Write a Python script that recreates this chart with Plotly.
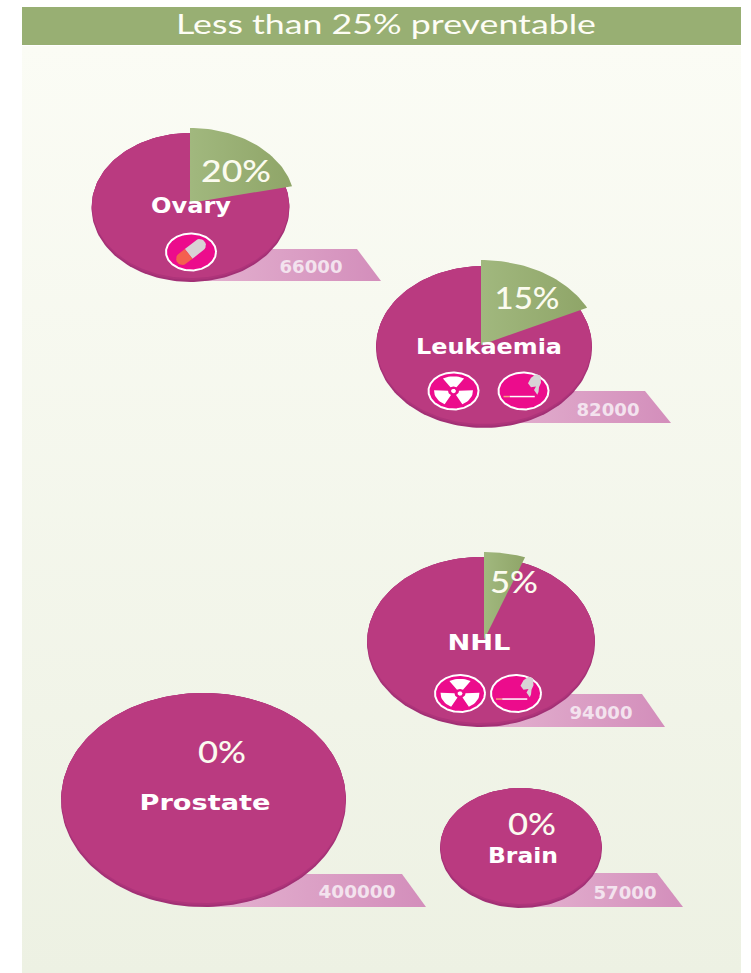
import json
import numpy as np
import plotly.graph_objects as go

# ---- data ----
categories = ["Ovary", "Leukaemia", "NHL", "Prostate", "Brain"]
preventable_pct = [20, 15, 5, 0, 0]
cases = [66000, 82000, 94000, 400000, 57000]
risk_icons = [["pill"], ["radiation", "smoking"], ["radiation", "smoking"], [], []]
title_text = "Less than 25% preventable"

# ---- layout (pixel canvas) ----
W, H = 751, 973
PIE = "#BA3A80"
RIM = "#A23075"
RIM_MID = "#AE347A"
ICON = "#EC0C8C"
centers = [(190.5, 207.5), (484, 347), (481, 642), (203.5, 800), (521, 848)]
radii = [(99, 74.5), (108, 81), (114, 85), (142.5, 107), (81, 60)]
wedge_apex = [(190, 203), (481, 345), (484, 640), None, None]
wedge_radii = [(104.7, 75), (118, 85), (120, 88), None, None]
wedge_sweep_scale = [77 / 72, 64 / 54, 20 / 18, 1, 1]
pct_pos = [(236, 174), (527, 301), (514, 585), (222, 755), (532, 827)]
name_pos = [(191, 208), (489, 349), (479, 645), (205, 805), (523, 858)]
value_pos = [(311, 268), (608, 411), (601, 714), (357, 893), (625, 894)]
flag_box = [(249, 281, 357, 381), (391, 423, 645, 671), (694, 727, 642, 665),
            (874, 907, 402, 426), (873, 907, 657, 683)]
icon_pos = [[(191, 252)], [(453.5, 391), (523.5, 391)], [(460, 693.5), (516, 693.5)], [], []]
# drawn widths of the labels, the source artwork is stretched horizontally
text_widths = {title_text: 420, "Ovary": 80, "Leukaemia": 146, "NHL": 63, "Prostate": 131,
               "Brain": 70, "20%": 70, "15%": 65, "5%": 48, "0%": 48,
               "66000": 63, "82000": 63, "94000": 63, "57000": 63, "400000": 77}

fig = go.Figure()


def poly(xs, ys, fill=None, grad=None, line=None, lw=0):
    kw = dict(fill="toself", mode="lines", hoverinfo="skip", showlegend=False,
              line=dict(color=line or "rgba(0,0,0,0)", width=lw))
    if grad:
        kw["fillgradient"] = dict(type=grad[0], colorscale=[[0, grad[1]], [1, grad[2]]])
        kw["fillcolor"] = None
    else:
        kw["fillcolor"] = fill
    fig.add_trace(go.Scatter(x=list(xs), y=list(ys), **kw))


def ellipse(cx, cy, rx, ry, **kw):
    t = np.linspace(0, 2 * np.pi, 181)
    poly(cx + rx * np.cos(t), cy + ry * np.sin(t), **kw)


def text(x, y, s, size, family, color="#FFFFFF", weight="normal"):
    fig.add_trace(go.Scatter(x=[x], y=[y], text=[s], mode="text", hoverinfo="skip",
                             showlegend=False, textposition="middle center",
                             textfont=dict(size=size, family=family, color=color, weight=weight)))


def radiation(cx, cy, rx, ry):
    ellipse(cx, cy, rx, ry, fill=ICON, line="#FFFFFF", lw=2)
    for mid in (0, 120, 240):
        a = np.radians(np.linspace(mid - 33, mid + 33, 12))
        xo, yo = cx + 0.78 * rx * np.sin(a), cy - 0.8 * ry * np.cos(a)
        xi, yi = cx + 0.22 * rx * np.sin(a), cy - 0.24 * ry * np.cos(a)
        poly(np.r_[xo, xi[::-1]], np.r_[yo, yi[::-1]], fill="#FFFFFF")
    ellipse(cx, cy, 0.1 * rx, 0.12 * ry, fill="#FFFFFF")


def smoking(cx, cy, rx, ry):
    ellipse(cx, cy, rx, ry, fill=ICON, line="#FFFFFF", lw=2)
    for x0, x1, c in ((-0.8, -0.55, "#F4A080"), (-0.55, 0.45, "#FFFFFF")):
        poly([cx + x0 * rx, cx + x1 * rx], [cy + 0.3 * ry, cy + 0.3 * ry], line=c, lw=1.5, fill="rgba(0,0,0,0)")
    poly([cx + k * rx for k in (0.18, 0.3, 0.5, 0.68, 0.7, 0.62, 0.6, 0.55, 0.42, 0.5, 0.3)],
         [cy + k * ry for k in (-0.42, -0.72, -0.9, -0.82, -0.45, -0.2, 0.05, 0.2, -0.05, -0.25, -0.2)],
         fill="#D8D4D6")


def pill(cx, cy, rx, ry):
    ellipse(cx, cy, rx, ry, fill=ICON, line="#FFFFFF", lw=2)
    ang = np.radians(-38)
    u = np.radians(np.linspace(-90, 90, 13))
    hl, r, split = 11, 6.2, -3

    def rot(px, py):
        return cx + px * np.cos(ang) - py * np.sin(ang), cy + px * np.sin(ang) + py * np.cos(ang)
    x1, y1 = rot(np.r_[split, hl + r * np.cos(u), split], np.r_[-r, r * np.sin(u), r])
    poly(x1, y1, fill="#D9D2D4")
    x2, y2 = rot(np.r_[split, -hl - r * np.cos(u), split], np.r_[r, -r * np.sin(u), -r])
    poly(x2, y2, fill="#F4604F")


ICONS = {"radiation": radiation, "smoking": smoking, "pill": pill}

# card and header
poly([22, 741, 741, 22], [46, 46, 973, 973], grad=("vertical", "#EDF1E3", "#FBFCF5"))
poly([22, 741, 741, 22], [7, 7, 45, 45], fill="#98AF73")
text(386, 27, title_text, 27, "Lato", "#FDFDF5")

# flags
for (cx, cy), (top, bot, xt, xb) in zip(centers, flag_box):
    poly([cx, xt, xb, cx], [top, top, bot, bot], grad=("horizontal", "#E4B2D0", "#D38EBB"))

# pies
for i, name in enumerate(categories):
    cx, cy = centers[i]
    rx, ry = radii[i]
    ellipse(cx, cy, rx, ry, fill=RIM)
    ellipse(cx, cy - 1, rx - 0.3, ry - 1, fill=RIM_MID)
    ellipse(cx, cy - 2, rx - 0.6, ry - 2, fill=PIE)
    if preventable_pct[i] > 0:
        sweep = preventable_pct[i] * 3.6 * wedge_sweep_scale[i]
        ax, ay = wedge_apex[i]
        wx, wy = wedge_radii[i]
        a = np.radians(np.linspace(0, sweep, 40))
        poly(np.r_[ax, ax + wx * np.sin(a), ax], np.r_[ay, ay - wy * np.cos(a), ay],
             grad=("horizontal", "#A1B87E", "#8FA568"))
    for kind, (ix, iy) in zip(risk_icons[i], icon_pos[i]):
        ICONS[kind](ix, iy, 25, 18.5)

# labels
for i, name in enumerate(categories):
    text(*pct_pos[i], f"{preventable_pct[i]}%", 31, "Lato", "#FBFBEF", weight=500)
    text(*name_pos[i], name, 21, "DejaVu Sans", "#FFFFFF", weight="bold")
    text(*value_pos[i], str(cases[i]), 18, "DejaVu Sans", "#F3E3EE", weight="bold")

fig.update_layout(width=W, height=H, margin=dict(l=0, r=0, t=0, b=0), autosize=False,
                  paper_bgcolor="#FFFFFF", plot_bgcolor="#FFFFFF", showlegend=False,
                  xaxis=dict(range=[0, W], visible=False, fixedrange=True),
                  yaxis=dict(range=[H, 0], visible=False, fixedrange=True))

post = """
document.body.style.margin = '0';
var widths = %s;
document.querySelectorAll('.textpoint text').forEach(function (t) {
  var w = widths[t.textContent];
  if (w) { t.setAttribute('textLength', w); t.setAttribute('lengthAdjust', 'spacingAndGlyphs'); }
});
""" % json.dumps(text_widths)
fig.write_html("out.html", config=dict(displayModeBar=False),
               default_width=f"{W}px", default_height=f"{H}px", post_script=post)
